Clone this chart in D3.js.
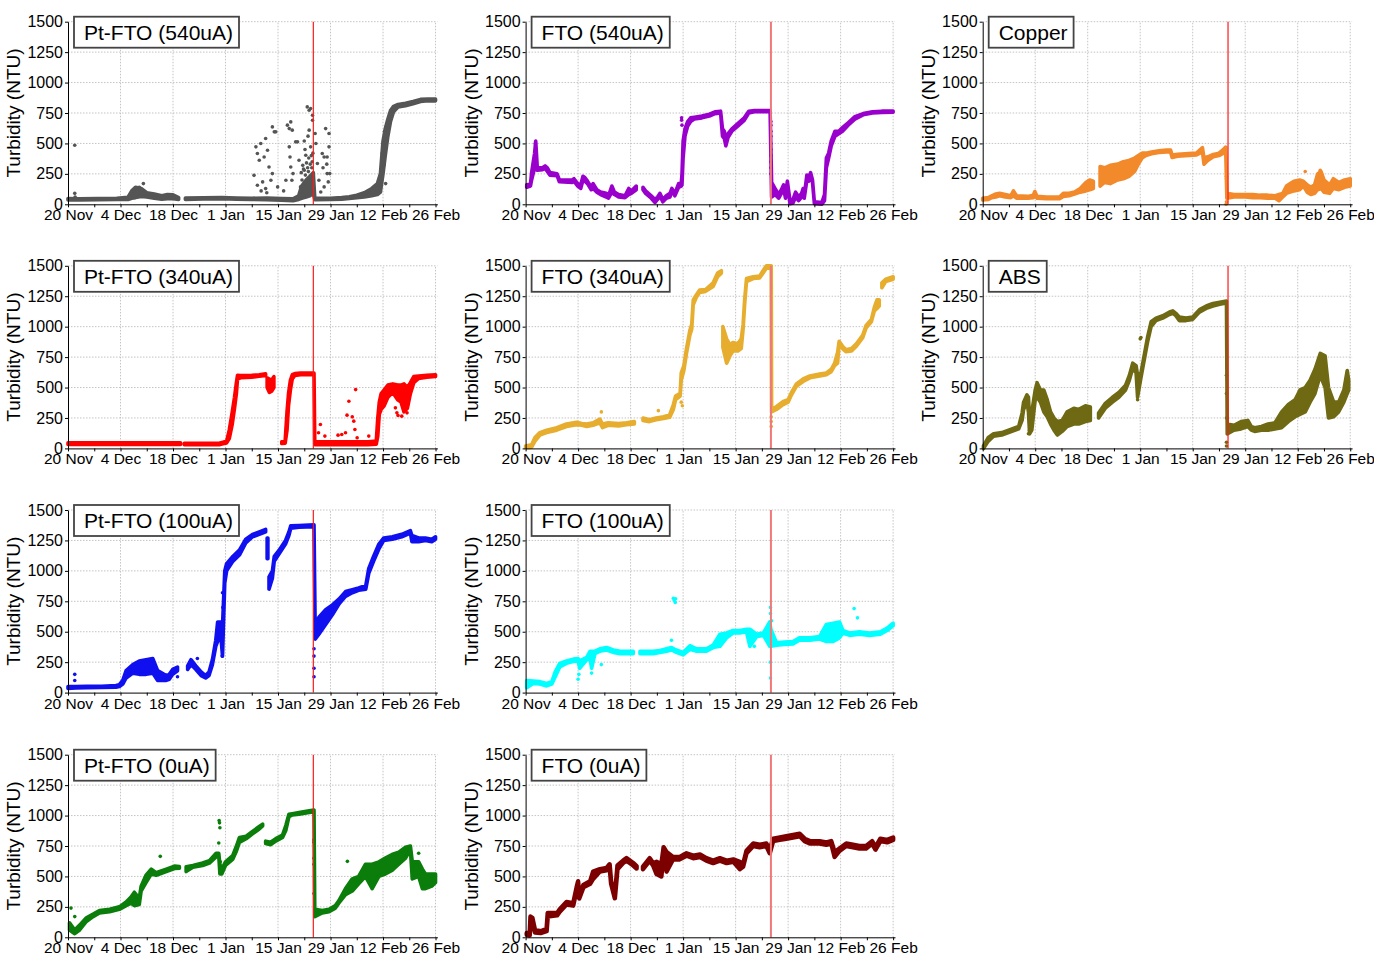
<!DOCTYPE html>
<html>
<head>
<meta charset="utf-8">
<script src="https://cdn.jsdelivr.net/npm/d3@7"></script>
<style>
  body { margin: 0; background: #fff; }
  svg { display: block; }
  text { font-family: "Liberation Sans", Arial, sans-serif; }
</style>
</head>
<body>
<svg id="chart" width="1374" height="956"></svg>
<script>
// days counted from 20 Nov; trace rows are [day, low, high], null = gap in the record
const startDay = "2019-11-20";
const endDay = "2020-02-26T12:00";
const eventDay = "2020-01-24T10:00";
const labelDays = ["2019-11-20", "2019-12-04", "2019-12-18", "2020-01-01", "2020-01-15", "2020-01-29", "2020-02-12", "2020-02-26"];
const yTicks = [0, 250, 500, 750, 1000, 1250, 1500];

const ptFto540Trace = [[0,35,48],[3,36,46],[8,38,48],[13,40,50],[16,40,58],[17,50,110],[18,55,140],[19.5,65,130],[21,60,95],[23,50,85],[25,42,70],[26.5,45,80],[28,45,78],[29.5,40,55],null,
  [31.3,40,52],[36,43,53],[41,46,56],[45,42,52],[49,40,50],[53,38,52],[57,33,48],[60,30,45],[61.5,40,70],[62.3,50,150],[63.5,60,200],[64.5,70,230],[65.4,90,260],
  [65.8,38,50],[70,40,50],[73,42,55],[75,48,62],[77,55,75],[79,60,95],[81,70,130],[82.5,80,170],[83.3,100,250],[84,250,520],[84.6,400,620],[85.3,560,700],[86,680,770],[86.8,760,805],[88,800,820],[90,810,830],[92,825,845],[94,845,862],[96,850,865],[98,850,865]];
const ptFto540Dots = [[1.8,485],[1.8,90],[1.9,60],[20.1,170],[19,140],
  [49.6,238],[50.1,472],[50.5,417],[51,362],[51.4,499],[51.9,184],[52.3,389],[52.7,540],[53.2,444],[53.6,307],[54.1,197],[54.5,636],[55,595],[55.4,595],[50.5,156],[52.7,129],[54.5,252],[55.9,143],[51.5,110],[53,95],
  [58.5,650],[59,622],[59.4,677],[59.8,609],[59,472],[59.2,389],[59.4,307],[59.7,197],[60,252],[58.1,197],[60.7,513],[61.2,513],[61.6,362],[62,143],[57.5,110],
  [63.8,800],[64.3,773],[64.7,787],[65.2,732],[65.2,691],[64.3,609],[64.7,472],[63.4,403],[63,520],[64,560],[62.8,290],[63.2,450],
  [62.2,260],[62.6,320],[63,280],[63.6,340],[63.9,300],[64.2,380],[64.6,330],[64.9,400],[65.1,350],[65.3,420],[62.4,200],[63.3,240],[64.1,270],[65,300],
  [65.9,581],[66.1,499],[66.5,335],[66.9,197],[67.4,101],[67.8,417],[68.3,389],[68.7,622],[69.1,389],[69.1,252],[69.6,581],[69.6,472],[69.8,252],[69.4,184],[68.3,143],[68,300],[69,330],
  [84.7,170],[83.5,230],[84.2,320],[83.8,420],[84.4,600],[85,650]];

const fto540Trace = [[0.3,140,160],[1.3,150,165],[1.6,200,260],[2.4,300,420],[2.7,380,520],[3.1,280,310],[4.5,285,300],[5.2,295,315],[5.8,270,300],[6.5,240,260],[8.4,235,250],[9,185,200],[12.5,180,200],[12.9,190,210],[13.9,150,170],[14.7,130,160],[15.3,200,230],[15.8,190,220],[16.5,170,190],[17.5,120,140],[18,130,170],[19,100,120],[20,80,100],[21.5,60,90],[22.1,50,70],[23,100,150],[23.7,80,100],[24.8,60,80],[26.5,55,70],[27.5,80,130],[28.2,90,110],[29.5,120,150],null,
  [31.3,120,140],[32,90,110],[33.5,50,70],[34.5,15,40],[35.2,40,60],[35.8,70,90],[36.6,20,40],[37.5,50,70],[38.5,60,90],[39,110,130],[39.8,70,90],[40.8,140,170],[41.5,150,170],[41.7,160,250],[42,380,520],[42.5,560,620],[43.2,640,680],[44,680,710],[45,700,715],[47,710,725],[49,725,740],[50.5,745,760],[52,750,765],[52.5,560,620],[53,540,600],[53.4,480,520],[54,550,580],[55,600,620],[56.5,640,660],[58.3,690,710],[59.5,750,765],[61,760,770],[65.2,760,770],
  [65.6,60,180],[66.5,80,130],[67.5,50,80],[68.2,90,120],[68.8,130,160],[69.3,50,70],[69.8,160,190],[70.5,5,30],[71.3,10,40],[72,60,100],[72.8,30,60],[73.6,60,90],[74,110,130],[74.3,50,70],[75,200,240],[75.5,190,220],[76,230,260],[76.5,180,200],[77,5,20],[79,0,15],[79.7,30,80],[80.2,300,380],[80.8,380,420],[81.5,480,520],[82.5,560,600],[83.5,580,600],[84.5,600,630],[86,650,670],[87.8,700,720],[90,735,745],[92.5,750,760],[95,755,765],[98,757,767]];
const fto540Dots = [[41.6,710],[41.6,690],[41.7,650],[65.4,680],[65.4,650],[65.4,600],[65.4,560],[65.4,500],[65.4,450],[65.4,400],[65.4,350],[65.4,300],[65.4,250],[2.6,500]];

const copperTrace = [[0,35,50],[1.5,40,55],[2.4,55,70],[3.5,60,85],[4.5,70,90],[6,60,80],[7.5,55,70],[8.2,70,110],[9,50,70],[12,50,65],[13.5,55,75],[13.9,70,105],[14.5,50,65],[17,45,60],[20.5,45,60],[21.5,65,90],[23,70,90],[24.5,85,100],[26,100,130],[27.5,110,180],[28.5,120,200],[29.5,130,190],null,
  [31.3,150,310],[32.5,180,300],[34,170,320],[36,200,330],[37.5,210,350],[39,230,360],[40.5,270,380],[41.5,330,400],[42.5,380,420],[43.5,400,420],[45,415,430],[47,425,440],[49,430,445],[50.1,430,445],[50.5,385,405],[52,395,410],[54,400,415],[57,405,420],[58.6,430,465],[59,330,380],[60,360,390],[61.5,390,410],[63,400,420],[64.2,420,450],[64.8,440,470],
  [65.1,50,90],[67,60,80],[70,60,80],[72,55,80],[74,55,75],[76,50,75],[78,50,70],[79,30,80],[80,60,90],[81,90,150],[82,100,170],[83,110,190],[84.5,120,200],[85.5,150,190],[86.5,100,160],[87.5,80,140],[88.5,90,160],[89.3,120,250],[90.2,130,270],[91,100,200],[92.5,90,160],[93.5,130,210],[95,120,180],[96.5,140,200],[98,150,210]];
const copperDots = [[65,230],[65,210],[65,20],[64.9,0],[90,280],[89.5,250],[86,270]];

const ptFto340Trace = [[0,32,45],[10,33,45],[20,33,45],[30,33,45],null,[31,30,42],[40.3,30,42],[41.3,38,50],[42.3,45,60],[43,80,150],[43.8,200,300],[44.4,330,420],[44.9,450,540],[45.2,570,600],[46,580,598],[49,585,600],[51,592,605],[52.7,600,612],null,
  [53.1,500,580],[53.7,460,570],[54.3,470,560],[54.9,500,590],null,
  [57,40,55],[57.9,42,60],[58.4,150,300],[58.8,350,450],[59.3,480,560],[59.8,570,605],[60.5,600,615],[62,605,618],[65.6,605,618],
  [65.8,30,55],[70,30,55],[75,30,55],[80,30,55],[82.2,35,60],[82.6,100,250],[83,280,380],[83.5,320,450],[84.3,350,480],[85.3,420,520],[86.6,460,530],[87.9,400,520],[88.8,380,520],[89.6,300,530],[90.5,330,500],[91.3,450,540],[92.2,540,590],[93.5,575,595],[95.7,585,600],[98,590,605]];
const ptFto340Dots = [[67.3,196],[66.8,128],[68.5,101],[72,109],[73,114],[74.4,273],[74.9,387],[75.8,259],[76.2,224],[76.7,483],[76.5,155],[77.1,87],[74,128],[80.2,101],[87.3,333],[87.7,292],[89,265],[89.5,319],[90.4,292],[90.8,401],[88,270]];

const fto340Trace = [[0,5,20],[1.6,10,30],[2.5,60,90],[3.8,110,130],[5.6,130,150],[8.3,150,170],[10.9,180,200],[13.6,195,215],[15,190,205],[16.3,180,200],[18,190,210],[19.8,210,240],[20.5,170,200],[22,190,210],[24.8,185,205],[26.9,195,210],[29,200,220],null,
  [31.3,230,250],[33,220,235],[34.8,235,250],[36.8,245,260],[38.4,255,275],[39.4,320,360],[40,400,430],[40.8,420,445],[41.2,430,450],[41.5,560,620],[42.2,640,680],[42.9,780,820],[43.8,930,970],[44.3,980,1020],[44.7,1180,1220],[45.5,1240,1260],[46.4,1280,1300],[48,1290,1305],[50,1330,1360],[51.2,1410,1440],[52.2,1440,1460],null,
  [52.6,830,1000],[53.6,700,900],[54.5,760,850],[55.3,800,870],[56.6,800,860],[57.5,820,900],[58,980,1020],[58.4,1180,1220],[58.9,1370,1395],[60.7,1395,1410],[62.4,1400,1415],[63.3,1440,1460],[64.2,1480,1500],[65.5,1480,1500],
  [65.6,300,320],[66.9,320,345],[68.7,360,385],[70,380,400],[70.9,440,460],[72.2,510,530],[74,550,570],[75.8,580,595],[78.4,595,610],[80.2,605,620],[81.5,630,650],[82.4,680,700],[83.2,700,790],[83.6,860,880],[84.5,820,840],[85.4,795,810],[86.9,800,820],[88.2,840,860],[89.9,910,930],[90.8,990,1010],[92.2,1040,1060],[93,1130,1160],[93.7,1150,1220],[94.3,1170,1220],null,
  [95,1320,1360],[96,1370,1390],[98,1390,1410]];
const fto340Dots = [[65.5,180],[65.5,220],[65.5,260],[20.2,300],[35.4,310],[41.5,380],[41.8,350]];

const absTrace = [[0.2,0,20],[1.5,60,90],[2.9,100,120],[5.1,110,130],[7.8,140,160],[9.6,160,180],[10.5,230,290],[10.9,320,380],[11.8,380,440],[12.2,300,420],[12.5,120,250],[13.1,150,300],[14,400,480],[14.5,420,540],[15.4,380,480],[16.3,300,480],[17.2,260,400],[18.1,200,300],[19,150,250],[19.9,110,220],[21.2,140,230],[22.5,180,300],[24.3,200,330],[25.6,200,320],[27.4,220,350],[28.7,230,340],null,
  [30.9,250,290],[32.7,330,370],[34.6,380,420],[36.3,420,460],[38.1,480,520],[39.1,560,600],[40,660,700],[40.9,620,680],[41.3,420,600],[42.2,580,620],[43.1,730,770],[44,880,920],[44.9,1000,1040],[46.2,1050,1070],[48,1070,1090],[49.8,1100,1120],[50.7,1110,1130],[51.5,1090,1110],[52.4,1050,1080],[54.2,1050,1070],[56,1060,1080],[57.8,1120,1140],[59.6,1150,1170],[61.4,1170,1190],[63.2,1185,1200],[65,1195,1210],
  [65.2,120,200],[67,150,190],[68.9,160,220],[70.7,180,230],[71.6,150,180],[72.5,140,170],[74.3,150,180],[76.1,150,200],[77.9,160,210],[79.7,170,300],[81.5,220,360],[83.3,260,400],[84.6,280,480],[86,300,500],[87.3,380,560],[88.6,450,650],[90,600,780],[91.3,500,760],[92.2,250,500],[93.6,260,380],[94.9,300,380],[96.3,380,480],[97.2,450,640],[97.6,480,560]];
const absDots = [[65,600],[65,450],[65,250],[65,50],[65,20],[42,900],[42.2,910],[12.2,120],[12.5,150],[41.3,400]];

const ptFto100Trace = [[0,35,50],[2,38,50],[5,40,52],[9,42,52],[12.8,45,58],[13.7,50,65],[14.6,70,100],[15.5,120,180],[17.3,160,230],[19,150,260],[20.8,150,270],[22.6,160,280],[23.9,100,180],[26.2,100,140],[27,110,150],[27.9,150,190],[29.2,180,210],null,
  [31.9,190,220],[32.8,230,270],[34.1,190,220],[35.5,140,170],[36.7,120,140],[37.6,140,170],[38.5,230,270],[39.4,380,430],[39.9,420,580],[40.8,450,580],[41.2,300,550],[41.8,900,1000],[42.3,1000,1060],[44,1080,1120],[45.7,1130,1170],[47.4,1230,1260],[49.2,1280,1300],[51,1300,1320],[52.7,1320,1340],null,
  [53.1,1100,1270],[53.3,1100,1270],null,[53.6,850,950],[54.5,940,1000],[55,1080,1120],[56.3,1140,1170],[58,1220,1250],[58.9,1290,1320],[59.4,1350,1370],[61.6,1358,1372],[65.6,1362,1378],
  [65.9,440,550],[66.9,480,620],[68.7,560,680],[70.5,640,720],[72.3,730,770],[74,790,830],[75.8,820,845],[77.5,840,860],[79.4,850,880],[80.2,980,1020],[81.5,1080,1120],[82.9,1180,1220],[84.2,1250,1270],[86.5,1260,1280],[89,1280,1300],[91.3,1310,1330],[91.7,1240,1290],[93.5,1240,1270],[95.3,1250,1270],[97,1240,1260],[98,1260,1280]];
const ptFto100Dots = [[1.8,100],[1.8,150],[41.2,820],[41.3,700],[41.4,600],[41.1,300],[65.6,130],[65.6,200],[65.6,300],[65.6,360],[29.2,130],[34.5,280]];

const fto100Trace = [[0.3,40,100],[2,75,95],[3.8,70,90],[5.6,55,75],[7,70,90],[7.9,130,170],[9.1,210,240],[10.9,240,260],[12.7,255,275],[14,260,280],[14.4,200,260],[16.3,270,290],[17.2,280,340],[17.6,200,340],[18.5,320,340],[19.8,340,360],[21.6,350,370],[23.4,330,350],[25.2,320,340],[26.9,320,340],[28.7,320,340],null,
  [30.5,320,340],[34,320,340],[35.8,330,345],[37.6,340,360],[38.9,350,370],[40.2,330,350],[42,310,330],[43.8,355,385],[45.6,340,360],[48.2,340,360],[50,370,390],[51.8,380,480],[53.6,450,490],[55.3,490,510],[57.1,490,510],[58.9,500,520],[59.8,380,520],[61.6,460,480],[63.4,470,490],[65.1,380,580],
  [65.4,380,520],[66.9,390,410],[69,395,415],[71.3,400,420],[73,430,450],[75.8,430,450],[78.4,440,460],[80.2,420,560],[82,420,570],[83.7,450,580],[84.6,490,510],[86.4,470,490],[89,480,500],[91.7,470,490],[94.6,480,500],[96.4,510,530],[98,550,570]];
const fto100Dots = [[14,110],[14.2,150],[17.6,160],[20.2,230],[38.9,430],[39.4,775],[39.6,760],[39.9,740],[40,770],[65.3,700],[65.3,650],[65.3,250],[65.3,120],[65.6,590],[87.6,690],[88.5,614],[79.2,504],[61,380]];

const ptFto0Trace = [[0.4,60,120],[1.8,30,60],[3.1,60,100],[4.9,130,160],[6.7,170,190],[8.4,200,220],[11.1,210,230],[13.7,230,250],[15.5,260,290],[16.8,280,330],[17.7,260,370],[19,270,320],[19.5,380,420],[20.8,450,510],[22.2,520,560],[23.5,510,530],[26.2,540,560],[28.4,565,585],[29.7,568,582],null,
  [31.5,540,580],[33.3,575,590],[35.9,590,610],[37.7,610,630],[39.5,660,690],[40.2,670,690],[40.5,520,600],[41,520,560],[42,590,620],[43.9,640,670],[44.8,700,740],[45.7,780,820],[47.5,810,830],[49.2,850,870],[51,890,910],[51.9,915,930],null,
  [52.7,770,790],[54,760,780],[55.4,790,810],[57.2,820,840],[58.1,880,920],[58.9,990,1010],[59.8,1005,1015],[61.6,1012,1025],[64.3,1025,1040],[65.6,1030,1045],
  [65.8,170,230],[67.8,200,220],[69.6,210,230],[71.3,240,260],[72.2,280,300],[74,350,400],[75.8,380,480],[77.5,440,500],[79.3,500,600],[81.1,400,600],[82.9,500,620],[84.6,520,650],[86.4,550,680],[88.2,600,700],[90,650,740],[91.3,720,750],[91.8,480,620],[93.5,500,620],[94.5,400,560],[95.3,400,520],[97,420,520],[98,450,520]];
const ptFto0Dots = [[0.8,240],[1.8,170],[24.6,665],[40.3,960],[40.4,940],[40.5,900],[40.2,775],[40.6,620],[65.6,800],[65.6,780],[65.6,650],[65.6,600],[65.6,360],[74.5,624],[92.5,620],[93.5,690]];

const fto0Trace = [[0.3,20,35],[1.1,15,30],[1.3,140,170],[1.8,120,160],[2.5,40,60],[4,35,50],[5.6,50,70],[5.9,170,200],[8.4,180,200],[9.1,210,230],[10.9,270,290],[12.7,260,280],[13.6,390,410],[14,440,460],[14.3,320,340],[15.4,410,430],[17.2,440,460],[18,480,540],[19.8,540,560],[21.6,550,570],[22.4,580,600],[22.8,440,460],[23.8,320,340],[24.5,560,590],[26,610,630],[26.9,630,650],[28.7,590,610],[29.6,565,585],null,
  [31.3,560,580],[33.1,630,650],[34,590,610],[34.9,520,620],[36.2,500,600],[36.8,700,740],[37.6,540,700],[39.3,640,660],[41.1,640,660],[42.9,670,690],[44.7,650,670],[46.5,660,680],[48.2,630,650],[50,610,630],[51.8,630,650],[53.6,610,630],[55.4,620,640],[57.1,560,620],[58,580,600],[58.9,690,710],[60.7,750,770],[62.4,740,760],[64.2,750,770],[65.1,690,720],
  [66,790,810],[67.8,800,820],[69.5,810,830],[71.3,820,840],[73.1,830,850],[74.4,790,810],[75.8,770,790],[78.4,770,790],[80.2,760,780],[81.5,770,790],[82.4,660,700],[83.7,710,730],[85.5,750,770],[87.3,740,760],[89,730,750],[90.8,730,750],[92.4,770,790],[93.3,720,740],[94.6,790,810],[96.4,780,800],[98,800,820]];
const fto0Dots = [];

const panels = [
  { title: "Pt-FTO (540uA)", color: "#555555", trace: ptFto540Trace, dots: ptFto540Dots, row: 0, col: 0 },
  { title: "FTO (540uA)", color: "#9900cc", trace: fto540Trace, dots: fto540Dots, row: 0, col: 1 },
  { title: "Copper", color: "#f28a2c", trace: copperTrace, dots: copperDots, row: 0, col: 2 },
  { title: "Pt-FTO (340uA)", color: "#ff0000", trace: ptFto340Trace, dots: ptFto340Dots, row: 1, col: 0 },
  { title: "FTO (340uA)", color: "#e6ad2e", trace: fto340Trace, dots: fto340Dots, row: 1, col: 1 },
  { title: "ABS", color: "#6e6912", trace: absTrace, dots: absDots, row: 1, col: 2 },
  { title: "Pt-FTO (100uA)", color: "#0f0ff0", trace: ptFto100Trace, dots: ptFto100Dots, row: 2, col: 0 },
  { title: "FTO (100uA)", color: "#00ffff", trace: fto100Trace, dots: fto100Dots, row: 2, col: 1 },
  { title: "Pt-FTO (0uA)", color: "#0a7d0a", trace: ptFto0Trace, dots: ptFto0Dots, row: 3, col: 0 },
  { title: "FTO (0uA)", color: "#7d0000", trace: fto0Trace, dots: fto0Dots, row: 3, col: 1 }
];

const colLeft = [68, 525.6, 982.7];
const rowTop = [21.7, 265.8, 510, 754.7];
const plotW = 369.4, plotH = 182.6;

const parseDay = d3.timeParse("%Y-%m-%d");
const parseDayTime = d3.timeParse("%Y-%m-%dT%H:%M");
const t0 = parseDay(startDay);
const dayToDate = d => new Date(t0.getTime() + d * 864e5);
const weekDays = d3.range(0, 99, 7).map(dayToDate);
const labelSet = new Set(labelDays.map(s => +parseDay(s)));

const svg = d3.select("#chart");

panels.forEach(p => {
  const left = colLeft[p.col], top = rowTop[p.row];
  const x = d3.scaleTime().domain([t0, parseDayTime(endDay)]).range([left, left + plotW]);
  const y = d3.scaleLinear().domain([0, 1500]).range([top + plotH, top]);
  const g = svg.append("g");

  // dotted grid
  g.append("g").selectAll("line").data(yTicks.slice(1)).join("line")
    .attr("x1", left).attr("x2", left + plotW)
    .attr("y1", d => y(d)).attr("y2", d => y(d))
    .attr("stroke", "#c4c4c4").attr("stroke-dasharray", "1.5,1.5");
  g.append("g").selectAll("line").data(labelDays.slice(1)).join("line")
    .attr("x1", d => x(parseDay(d))).attr("x2", d => x(parseDay(d)))
    .attr("y1", y(0)).attr("y2", y(1500))
    .attr("stroke", "#c4c4c4").attr("stroke-dasharray", "1.5,1.5");

  // measured trace as a band between low and high readings
  const area = d3.area()
    .defined(d => d)
    .x(d => x(dayToDate(d[0])))
    .y0(d => y(d[1]))
    .y1(d => y(d[2]));
  g.append("path")
    .datum(p.trace)
    .attr("d", area)
    .attr("fill", p.color)
    .attr("stroke", p.color)
    .attr("stroke-width", p.title === "FTO (0uA)" ? 4.5 : 3.6)
    .attr("stroke-linejoin", "round");

  g.append("g").selectAll("circle").data(p.dots).join("circle")
    .attr("cx", d => x(dayToDate(d[0])))
    .attr("cy", d => y(d[1]))
    .attr("r", 1.8)
    .attr("fill", p.color);

  // event marker
  const ex = x(parseDayTime(eventDay));
  g.append("line")
    .attr("x1", ex).attr("x2", ex)
    .attr("y1", y(0)).attr("y2", y(1500))
    .attr("stroke", p.col === 1 ? "#f07878" : "#ff1a1a")
    .attr("stroke-width", p.col === 1 ? 2 : 1.2);

  // axes
  const yAxis = g.append("g")
    .attr("transform", `translate(${left},0)`)
    .call(d3.axisLeft(y).tickValues(yTicks).tickFormat(d3.format("d"))
      .tickSize(3).tickSizeOuter(0).tickPadding(2));
  yAxis.selectAll("text").attr("font-size", 16);

  const xAxis = g.append("g")
    .attr("transform", `translate(0,${top + plotH})`)
    .call(d3.axisBottom(x).tickValues(weekDays).tickSize(3).tickSizeOuter(0).tickPadding(2)
      .tickFormat(d => labelSet.has(+d) ? d3.timeFormat("%-d %b")(d) : ""));
  xAxis.selectAll("text").attr("font-size", 15.5);
  [xAxis, yAxis].forEach(a => {
    a.select(".domain").attr("stroke", "#000");
    a.selectAll(".tick line").attr("stroke", "#000");
  });

  g.append("text")
    .attr("transform", `translate(${left - 48},${top + plotH / 2}) rotate(-90)`)
    .attr("text-anchor", "middle")
    .attr("font-size", 19)
    .text("Turbidity (NTU)");

  // title box
  const box = g.append("g");
  const rect = box.append("rect");
  const label = box.append("text")
    .attr("x", left + 16)
    .attr("y", top + 18)
    .attr("font-size", 21)
    .text(p.title);
  const tw = label.node().getComputedTextLength();
  rect.attr("x", left + 6).attr("y", top - 5)
    .attr("width", tw + 16).attr("height", 31)
    .attr("fill", "#fff").attr("stroke", "#444").attr("stroke-width", 1.8);
});
</script>
</body>
</html>
